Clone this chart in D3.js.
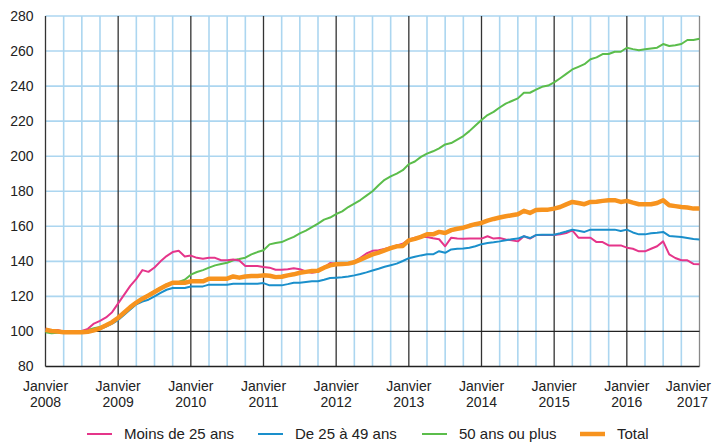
<!DOCTYPE html>
<html><head><meta charset="utf-8">
<script src="https://cdn.jsdelivr.net/npm/d3@7"></script>
<style>
html,body{margin:0;padding:0;background:#fff;}
svg{display:block;}
text{font-family:"Liberation Sans",Arial,sans-serif;fill:#222;}
</style></head>
<body><svg id="c" width="713" height="443"></svg>
<script>
// Monthly index values, January 2008 = 100 (Jan 2008 .. Jan 2017)
const startYear = 2008;
const yearTicks = [2008,2009,2010,2011,2012,2013,2014,2015,2016,2017];
const yTicks = [80,100,120,140,160,180,200,220,240,260,280];
const seriesNames = ["Moins de 25 ans","De 25 à 49 ans","50 ans ou plus","Total"];
const seriesColors = ["#e5358a","#1a8fcb","#5bbd4b","#f7931e"];

const moins25 = [101.5,100.5,100.8,99.8,99.7,99.8,100.3,101.5,104.5,106,108,111,
116,121,126,130,135,134,136.5,140,143,145.3,146,142.8,
143.3,142,141.5,142,142,140.6,140.6,141,140.5,137.3,137.3,137.3,
136.8,136.4,135.2,135.2,135.5,136,135.5,134.3,133.5,134,136.5,139,
138.6,138.6,138.8,140,142,144.5,146,146.3,147,148,149,150,
152.4,153.5,154,153.9,153.2,152.6,148.6,153.5,153,152.9,153,153,
153,154.3,153,153.3,152.5,152,151.4,154.3,153,155,155,155,
155,155.5,156.2,157.7,153.5,153.5,153.5,151,151,149.1,149.1,149.1,
147.8,147.2,145.7,145.7,147.2,148.6,151.4,144,141.9,140.6,140.6,138.5,
138.3];

const de25a49 = [101,100.2,100,99.6,99.4,99.3,99.3,99.5,100.2,101.3,102.8,104.5,
106.5,109.5,112.5,115.5,117.1,118.1,120,122,123.8,124.8,124.8,124.8,
125.7,125.7,125.7,126.7,126.7,126.7,126.7,127.2,127.2,127.2,127.2,127.2,
127.6,126.3,126.3,126.3,127,127.8,127.8,128.2,128.6,128.6,129.5,130.5,
130.7,130.9,131.3,132,132.8,133.7,134.8,135.8,136.9,137.8,138.7,140.2,
141.8,142.6,143.4,144,144,145.8,144.9,146.8,147.2,147.3,147.8,148.6,
149.8,150.5,150.9,151.4,152,152.6,153,154.3,153.3,155,155.2,155.2,
155.2,156,157,158.1,157.5,156.8,158.1,158.1,158.1,158.1,158.1,157.3,
158.1,156.5,155.4,155.4,156,156.3,156.8,154.5,154.2,153.9,153.3,152.7,
152.4];

const plus50 = [99.5,99,99.3,99.5,99.5,99.8,100,100.8,101.8,102.5,103.8,105.5,
107.8,110.8,113.9,116.8,119,121,123,125,126.8,128,128.2,129.5,
132.4,133.9,135,136.4,137.7,138.5,139.2,140.6,141.3,142.1,144,145.3,
146.3,149.7,150.5,151,152.5,154,156,157.5,159.5,161.5,163.8,165,
167,168.5,171,173,175,177.5,180,183.4,186.5,188.5,190.1,192,
195.5,197,199.6,201.5,202.8,204.5,206.7,207.5,209.5,211.5,214.3,217.5,
220.6,223.5,225.3,227.8,230,231.5,233,236.2,236.2,238,239.6,240.3,
242.1,244.5,247,249.5,251,252.5,255.3,256.4,258.3,258.3,259.6,259.6,
261.9,261.1,260.4,261,261.5,261.9,264,262.9,263.3,264,266.3,266.3,
267];

const total = [101,100.3,100,99.6,99.5,99.5,99.5,99.8,100.6,101.8,103.5,105.3,
107.8,110.8,113.9,116.5,118.7,120.5,122.5,124.5,126.3,127.8,127.8,127.8,
128.6,128.6,128.6,130.1,130.1,130.1,130.1,131.4,130.7,131.4,131.6,131.6,
132,131.8,131,131.2,132,132.6,133.5,134,134.5,134.7,136.4,137.7,
138.3,138.5,138.7,139.5,141,142.5,144,145,146.3,147.5,148.6,148.8,
152,152.8,154,155.4,155.4,156.8,156.2,157.8,158.6,159.2,160.3,161.2,
161.9,163.2,164.2,165,165.7,166.3,166.9,168.8,167.6,169.3,169.5,169.5,
170.1,171,172.5,173.9,173.3,172.6,173.9,174,174.5,174.9,174.9,173.9,
174.5,173.5,172.6,172.6,172.6,173.3,174.9,172,171.5,171,170.7,170.1,
170.1];

const seriesValues = [moins25, de25a49, plus50, total];

const svg = d3.select("#c");
const x = d3.scaleLinear().domain([0,108]).range([45.5,699.5]);
const y = d3.scaleLinear().domain([80,280]).range([366.5,16]);

const g = svg.append("g");
// minor (quarterly) vertical gridlines
const quarterMonths = d3.range(0,109,3).filter(m => m%12!==0);
g.selectAll(".vq").data(quarterMonths).enter().append("line")
  .attr("x1",d=>x(d)).attr("x2",d=>x(d)).attr("y1",y(280)).attr("y2",y(80))
  .attr("stroke","#acd6f0").attr("stroke-width",1.6);
// horizontal gridlines
g.selectAll(".hg").data(yTicks.filter(v=>v!==80 && v!==100)).enter().append("line")
  .attr("x1",x(0)).attr("x2",x(108)).attr("y1",d=>y(d)).attr("y2",d=>y(d))
  .attr("stroke","#acd6f0").attr("stroke-width",1.6);
// year lines
g.selectAll(".vy").data(yearTicks).enter().append("line")
  .attr("x1",d=>x((d-startYear)*12)).attr("x2",d=>x((d-startYear)*12))
  .attr("y1",y(280)).attr("y2",y(80))
  .attr("stroke",d=>d===2017?"#888":"#333").attr("stroke-width",1.3);
// base 100 line and x axis line
g.append("line").attr("x1",x(0)).attr("x2",x(108)).attr("y1",y(100)).attr("y2",y(100))
  .attr("stroke","#222").attr("stroke-width",1.3);
g.append("line").attr("x1",x(0)).attr("x2",x(108)).attr("y1",y(80)).attr("y2",y(80))
  .attr("stroke","#222").attr("stroke-width",1.3);

// y axis labels
const yAxis = d3.axisLeft(y).tickValues(yTicks).tickSize(0).tickPadding(12);
const ya = svg.append("g").attr("transform",`translate(${x(0)},0)`).call(yAxis);
ya.select(".domain").remove();
ya.selectAll("text").attr("font-size",14).attr("fill","#222")
  .style("font-family",'"Liberation Sans",Arial,sans-serif');

// x labels
const xl = svg.append("g");
yearTicks.forEach(yr=>{
  const cx = x((yr-startYear)*12);
  const last = yr===2017;
  const t = xl.append("text").attr("font-size",14)
    .attr("text-anchor", last?"end":"middle")
    .attr("x", last?711:cx);
  t.append("tspan").attr("x",last?711:cx).attr("y",391).text("Janvier");
  t.append("tspan").attr("x",last?(711-3):cx).attr("y",407).text(yr);
});

// lines
const line = d3.line().x((d,i)=>x(i)).y(d=>y(d));
const order = [2,0,1,3];
order.forEach(k=>{
  svg.append("path").datum(seriesValues[k])
    .attr("fill","none").attr("stroke",seriesColors[k])
    .attr("stroke-width",k===3?4.5:2)
    .attr("stroke-linejoin","round")
    .attr("d",line);
});

// legend
const legX = [87,258,422,580];
const lg = svg.append("g");
seriesNames.forEach((n,i)=>{
  lg.append("line").attr("x1",legX[i]).attr("x2",legX[i]+25).attr("y1",434).attr("y2",434)
    .attr("stroke",seriesColors[i]).attr("stroke-width",i===3?4.5:2);
  lg.append("text").attr("x",legX[i]+37).attr("y",439).attr("font-size",15).text(n);
});
</script></body></html>
